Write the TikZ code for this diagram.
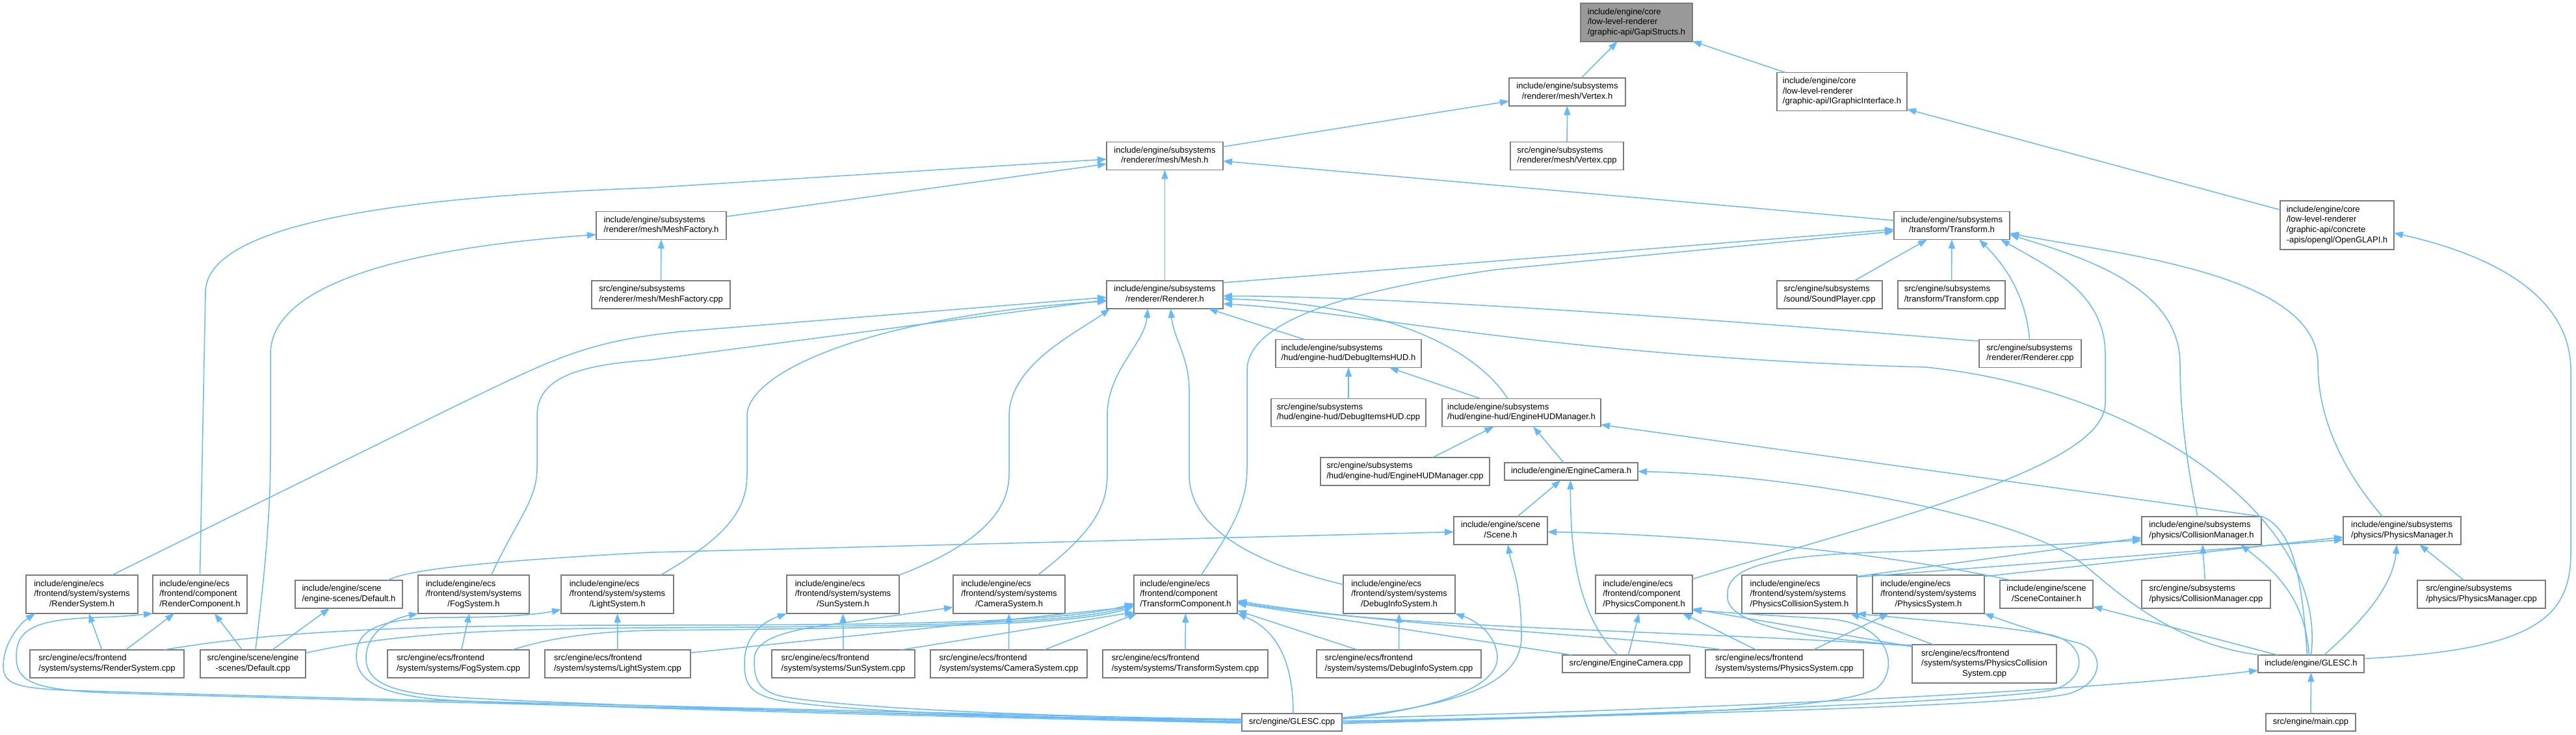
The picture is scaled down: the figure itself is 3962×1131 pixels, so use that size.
\documentclass[tikz,border=0pt]{standalone}
\usepackage{fontspec}
\setmainfont{Liberation Sans}
\usepackage{tikz}
\usetikzlibrary{arrows.meta,positioning,calc}
\definecolor{IncBlue}{HTML}{63B8FF}
\definecolor{BoxGray}{HTML}{7A7A7A}
\definecolor{FocusGray}{HTML}{999999}
\newcommand{\fsize}{\fontsize{13}{15.6}\selectfont}
\newcommand{\flines}[2]{\begin{tabular}{@{}l@{}}#1\\\multicolumn{1}{@{}c@{}}{#2}\end{tabular}}

\begin{document}
\begin{tikzpicture}[
  x=1pt,y=-1pt,
  srcbox/.style={draw=BoxGray,fill=white,line width=1.8pt,inner sep=0pt,outer sep=0pt,font=\fsize},
  focusbox/.style={srcbox,fill=FocusGray},
  wd/.style={minimum width=#1pt},
  ln1/.style={minimum height=27pt},
  ln2/.style={minimum height=43pt},
  ln3/.style={minimum height=59pt},
  ln4/.style={minimum height=75pt},
  inc/.style={-{Triangle[length=14pt,width=10pt]},draw=IncBlue,line width=1.5pt}
]
\useasboundingbox (0,0) rectangle (3962,1131);
\node[focusbox,ln3,wd=172] (gapi) at (2517,34.5) {\flines{include/engine/core\\/low-level-renderer}{/graphic-api/GapiStructs.h}};
\node[srcbox,ln2,wd=179] (vtxh) at (2410.5,141.5) {\flines{include/engine/subsystems}{/renderer/mesh/Vertex.h}};
\node[srcbox,ln3,wd=200] (igfx) at (2833,141) {\flines{include/engine/core\\/low-level-renderer}{/graphic-api/IGraphicInterface.h}};
\node[srcbox,ln2,wd=179] (mesh) at (1791.5,240) {\flines{include/engine/subsystems}{/renderer/mesh/Mesh.h}};
\node[srcbox,ln2,wd=174] (vtxcpp) at (2410,240) {\flines{src/engine/subsystems}{/renderer/mesh/Vertex.cpp}};
\node[srcbox,ln4,wd=175] (ogl) at (3594.5,346.5) {\flines{include/engine/core\\/low-level-renderer\\/graphic-api/concrete}{-apis/opengl/OpenGLAPI.h}};
\node[srcbox,ln2,wd=200] (mfh) at (1017,347) {\flines{include/engine/subsystems}{/renderer/mesh/MeshFactory.h}};
\node[srcbox,ln2,wd=178] (trans) at (3002,347) {\flines{include/engine/subsystems}{/transform/Transform.h}};
\node[srcbox,ln2,wd=213] (mfcpp) at (1016.5,453.5) {\flines{src/engine/subsystems}{/renderer/mesh/MeshFactory.cpp}};
\node[srcbox,ln2,wd=179] (rend) at (1791.5,453.5) {\flines{include/engine/subsystems}{/renderer/Renderer.h}};
\node[srcbox,ln2,wd=162] (sndcpp) at (2814,453.5) {\flines{src/engine/subsystems}{/sound/SoundPlayer.cpp}};
\node[srcbox,ln2,wd=165] (trcpp) at (3001.5,453.5) {\flines{src/engine/subsystems}{/transform/Transform.cpp}};
\node[srcbox,ln2,wd=224] (dihud) at (2074,544) {\flines{include/engine/subsystems}{/hud/engine-hud/DebugItemsHUD.h}};
\node[srcbox,ln2,wd=157] (rendcpp) at (3122.5,544) {\flines{src/engine/subsystems}{/renderer/Renderer.cpp}};
\node[srcbox,ln2,wd=238] (dihudcpp) at (2074,635) {\flines{src/engine/subsystems}{/hud/engine-hud/DebugItemsHUD.cpp}};
\node[srcbox,ln2,wd=244] (hudmgr) at (2340,635) {\flines{include/engine/subsystems}{/hud/engine-hud/EngineHUDManager.h}};
\node[srcbox,ln2,wd=260] (hudmgrcpp) at (2161,725.5) {\flines{src/engine/subsystems}{/hud/engine-hud/EngineHUDManager.cpp}};
\node[srcbox,ln1,wd=205] (ecam) at (2416.5,725.5) {include/engine/EngineCamera.h};
\node[srcbox,ln2,wd=144] (scene) at (2308,816.5) {\flines{include/engine/scene}{/Scene.h}};
\node[srcbox,ln2,wd=184] (colmgr) at (3386,816.5) {\flines{include/engine/subsystems}{/physics/CollisionManager.h}};
\node[srcbox,ln2,wd=181] (phymgr) at (3694.5,816.5) {\flines{include/engine/subsystems}{/physics/PhysicsManager.h}};
\node[srcbox,ln3,wd=172] (rsys) at (126,914.5) {\flines{include/engine/ecs\\/frontend/system/systems}{/RenderSystem.h}};
\node[srcbox,ln3,wd=145,right=23pt of rsys] (rcomp) {\flines{include/engine/ecs\\/frontend/component}{/RenderComponent.h}};
\node[srcbox,ln2,wd=165,right=74pt of rcomp] (defh) {\flines{include/engine/scene}{/engine-scenes/Default.h}};
\node[srcbox,ln3,wd=171,right=24pt of defh] (fogh) {\flines{include/engine/ecs\\/frontend/system/systems}{/FogSystem.h}};
\node[srcbox,ln3,wd=173,right=49pt of fogh] (lighth) {\flines{include/engine/ecs\\/frontend/system/systems}{/LightSystem.h}};
\node[srcbox,ln3,wd=173,right=174pt of lighth] (sunh) {\flines{include/engine/ecs\\/frontend/system/systems}{/SunSystem.h}};
\node[srcbox,ln3,wd=172,right=83pt of sunh] (camh) {\flines{include/engine/ecs\\/frontend/system/systems}{/CameraSystem.h}};
\node[srcbox,ln3,wd=159,right=106pt of camh] (tcomp) {\flines{include/engine/ecs\\/frontend/component}{/TransformComponent.h}};
\node[srcbox,ln3,wd=172,right=163pt of tcomp] (dish) {\flines{include/engine/ecs\\/frontend/system/systems}{/DebugInfoSystem.h}};
\node[srcbox,ln3,wd=149,right=216pt of dish] (pcomp) {\flines{include/engine/ecs\\/frontend/component}{/PhysicsComponent.h}};
\node[srcbox,ln3,wd=177,right=76pt of pcomp] (pcsh) {\flines{include/engine/ecs\\/frontend/system/systems}{/PhysicsCollisionSystem.h}};
\node[srcbox,ln3,wd=172,right=24pt of pcsh] (psysh) {\flines{include/engine/ecs\\/frontend/system/systems}{/PhysicsSystem.h}};
\node[srcbox,ln2,wd=143,right=24pt of psysh] (scont) {\flines{include/engine/scene}{/SceneContainer.h}};
\node[srcbox,ln2,wd=198,right=75pt of scont] (colcpp) {\flines{src/engine/subsystems}{/physics/CollisionManager.cpp}};
\node[srcbox,ln2,wd=197,right=226pt of colcpp] (phycpp) {\flines{src/engine/subsystems}{/physics/PhysicsManager.cpp}};
\node[srcbox,ln2,wd=237] (rsyscpp) at (164.5,1021.5) {\flines{src/engine/ecs/frontend}{/system/systems/RenderSystem.cpp}};
\node[srcbox,ln2,wd=162,right=25pt of rsyscpp] (defcpp) {\flines{src/engine/scene/engine}{-scenes/Default.cpp}};
\node[srcbox,ln2,wd=218,right=126pt of defcpp] (fogcpp) {\flines{src/engine/ecs/frontend}{/system/systems/FogSystem.cpp}};
\node[srcbox,ln2,wd=224,right=24pt of fogcpp] (lightcpp) {\flines{src/engine/ecs/frontend}{/system/systems/LightSystem.cpp}};
\node[srcbox,ln2,wd=220,right=125pt of lightcpp] (suncpp) {\flines{src/engine/ecs/frontend}{/system/systems/SunSystem.cpp}};
\node[srcbox,ln2,wd=241,right=24pt of suncpp] (camcpp) {\flines{src/engine/ecs/frontend}{/system/systems/CameraSystem.cpp}};
\node[srcbox,ln2,wd=254,right=24pt of camcpp] (tsyscpp) {\flines{src/engine/ecs/frontend}{/system/systems/TransformSystem.cpp}};
\node[srcbox,ln2,wd=253,right=75pt of tsyscpp] (discpp) {\flines{src/engine/ecs/frontend}{/system/systems/DebugInfoSystem.cpp}};
\node[srcbox,ln1,wd=196,right=125pt of discpp] (ecamcpp) {src/engine/EngineCamera.cpp};
\node[srcbox,ln2,wd=243,right=24pt of ecamcpp] (psyscpp) {\flines{src/engine/ecs/frontend}{/system/systems/PhysicsSystem.cpp}};
\node[srcbox,ln3,wd=222,right=75pt of psyscpp] (pcscpp) {\flines{src/engine/ecs/frontend\\/system/systems/PhysicsCollision}{System.cpp}};
\node[srcbox,ln1,wd=163,right=310pt of pcscpp] (glesch) {include/engine/GLESC.h};
\node[srcbox,ln1,wd=154] (glesccpp) at (1987,1111.5) {src/engine/GLESC.cpp};
\node[srcbox,ln1,wd=138] (maincpp) at (3554,1111.5) {src/engine/main.cpp};
\draw[inc] (vtxh) -- (gapi);
\draw[inc] (igfx) -- (gapi);
\draw[inc] (mesh) -- (vtxh);
\draw[inc] (vtxcpp) -- (vtxh);
\draw[inc] (ogl) -- (igfx);
\draw[inc] (mfh) -- (mesh);
\draw[inc] (rcomp.north) -- (316,450) .. controls (316,330) and (700,300) .. (1000,289) -- ($(mesh.west)+(0,5)$);
\draw[inc] (rend) -- (mesh);
\draw[inc] (trans) -- (mesh);
\draw[inc] ($(rend.north east)+(0,3)$) -- ($(trans.west)+(0,6)$);
\draw[inc] ($(tcomp.north)+(24,0)$) .. controls (1890,820) and (1918,780) .. (1918,720) -- (1918,570) .. controls (1918,500) and (2050,450) .. (2300,415) -- ($(trans.west)+(0,9)$);
\draw[inc] (sndcpp) -- (trans);
\draw[inc] (trcpp) -- (trans);
\draw[inc] ($(rendcpp.north)+(-1,0)$) .. controls (3115,445) and (3075,400) .. ($(trans.south)+(42,0)$);
\draw[inc] ($(pcomp.north east)+(0,6)$) .. controls (2900,800) and (3238,720) .. (3238,620) -- (3238,545) .. controls (3238,450) and (3150,410) .. ($(trans.south east)+(-14,0)$);
\draw[inc] ($(colmgr.north)+(-6,0)$) .. controls (3360,700) and (3353,620) .. (3353,560) .. controls (3353,440) and (3200,395) .. ($(trans.east)+(0,14)$);
\draw[inc] ($(phymgr.north)+(-30,0)$) .. controls (3600,720) and (3565,640) .. (3565,560) .. controls (3565,420) and (3250,390) .. ($(trans.east)+(0,12)$);
\draw[inc] ($(glesch.east)+(0,-8)$) .. controls (3900,1000) and (3954,950) .. (3954,850) -- (3954,570) .. controls (3954,440) and (3800,385) .. ($(ogl.east)+(0,12)$);
\draw[inc] (mfcpp) -- (mfh);
\draw[inc] ($(defcpp.north)+(4,0)$) .. controls (405,900) and (416,800) .. (416,700) -- (416,545) .. controls (416,430) and (650,380) .. ($(mfh.west)+(0,14)$);
\draw[inc] ($(rsys.north)+(46,0)$) -- (700,625) .. controls (850,553) and (900,525) .. (1050,510) -- ($(rend.west)+(0,4)$);
\draw[inc] ($(fogh.north)+(27,0)$) .. controls (795,800) and (826,770) .. (826,720) -- (826,640) .. controls (826,585) and (880,562) .. (1000,554) -- ($(rend.west)+(0,8)$);
\draw[inc] ($(lighth.north east)+(-20,0)$) .. controls (1110,830) and (1149,790) .. (1149,730) -- (1149,640) .. controls (1149,570) and (1350,485) .. ($(rend.west)+(0,10)$);
\draw[inc] (sunh.north east) .. controls (1500,840) and (1552,790) .. (1552,730) -- (1552,640) .. controls (1552,560) and (1660,510) .. ($(rend.south west)+(5,0)$);
\draw[inc] ($(camh.north)+(44,0)$) .. controls (1680,820) and (1703,780) .. (1703,730) -- (1703,640) .. controls (1703,570) and (1760,530) .. ($(rend.south)+(-26,0)$);
\draw[inc] ($(dish.west)+(0,-15)$) .. controls (1900,860) and (1829,800) .. (1829,730) -- (1829,600) .. controls (1829,550) and (1805,520) .. ($(rend.south)+(9,0)$);
\draw[inc] (dihud) -- (rend);
\draw[inc] ($(rendcpp.west)+(0,-19)$) .. controls (2500,480) and (2100,456) .. ($(rend.east)+(0,2)$);
\draw[inc] ($(hudmgr.north)+(-21,0)$) .. controls (2285,560) and (2180,470) .. ($(rend.east)+(0,6)$);
\draw[inc] (glesch.north) .. controls (3580,800) and (3300,600) .. (2962,565) .. controls (2400,550) and (2100,480) .. ($(rend.east)+(0,14)$);
\draw[inc] (dihudcpp) -- (dihud);
\draw[inc] (hudmgr) -- (dihud);
\draw[inc] (hudmgrcpp) -- (hudmgr);
\draw[inc] (ecam) -- (hudmgr);
\draw[inc] ($(glesch.north)+(-6,0)$) .. controls (3540,880) and (3525,815) .. (3480,795) -- ($(hudmgr.south east)+(0,-3)$);
\draw[inc] (scene) -- (ecam);
\draw[inc] ($(ecamcpp.north)+(-13,0)$) .. controls (2430,950) and (2415,860) .. ($(ecam.south)+(-1,0)$);
\draw[inc] ($(glesch.north west)+(3,0)$) .. controls (3330,990) and (3240,895) .. (3200,865) .. controls (3100,790) and (2750,730) .. (ecam.east);
\draw[inc] ($(defh.north)+(60,0)$) .. controls (620,880) and (700,866) .. (1000,850) -- ($(scene.west)+(0,2)$);
\draw[inc] ($(glesccpp.east)+(0,-7)$) .. controls (2250,1085) and (2340,1050) .. (2340,980) .. controls (2340,900) and (2325,870) .. ($(scene.south)+(11,0)$);
\draw[inc] ($(scont.north west)+(17,0)$) .. controls (2900,850) and (2600,822) .. ($(scene.east)+(0,2)$);
\draw[inc] (glesch) -- (scont);
\draw[inc] ($(glesch.north)+(-3,0)$) .. controls (3545,920) and (3500,880) .. ($(colmgr.south)+(60,0)$);
\draw[inc] (colcpp) -- (colmgr);
\draw[inc] ($(glesch.north)+(20,0)$) .. controls (3640,950) and (3680,900) .. ($(phymgr.south)+(-8,0)$);
\draw[inc] (phycpp) -- (phymgr);
\draw[inc] ($(psysh.north east)+(0,2)$) -- ($(phymgr.west)+(0,10)$);
\draw[inc] ($(pcsh.north east)+(0,2)$) -- ($(colmgr.west)+(0,11)$);
\draw[inc] ($(pcsh.north east)+(0,3)$) -- ($(phymgr.west)+(0,14)$);
\draw[inc] ($(pcscpp.north west)+(0,1)$) .. controls (2800,985) and (2650,965) .. (2657,915) .. controls (2655,865) and (2750,852) .. (2950,848) -- ($(colmgr.west)+(0,15)$);
\draw[inc] ($(glesccpp.east)+(0,2)$) .. controls (2500,1100) and (2820,1095) .. (2885,1060) .. controls (2920,1035) and (2915,960) .. (2810,952) .. controls (2700,946) and (2650,942) .. ($(pcomp.south east)+(0,-5)$);
\draw[inc] (glesccpp.east) .. controls (2600,1098) and (3050,1078) .. (3150,1063) .. controls (3212,1052) and (3215,988) .. (3150,976) .. controls (3050,960) and (2930,952) .. (pcsh.south east);
\draw[inc] ($(glesccpp.east)+(0,-2)$) .. controls (2600,1100) and (3100,1085) .. (3180,1068) .. controls (3238,1052) and (3238,1000) .. (3195,989) .. controls (3140,975) and (3090,958) .. (psysh.south east);
\draw[inc] (pcscpp) -- (pcsh);
\draw[inc] (psyscpp) -- (psysh);
\draw[inc] (psyscpp) -- (pcomp);
\draw[inc] ($(pcscpp.north west)+(0,3)$) -- ($(pcomp.south east)+(0,-7)$);
\draw[inc] (ecamcpp) -- (pcomp);
\draw[inc] (rsyscpp) -- (rsys);
\draw[inc] (rsyscpp) -- (rcomp);
\draw[inc] (defcpp) -- (rcomp);
\draw[inc] (defcpp) -- (defh);
\draw[inc] (fogcpp) -- (fogh);
\draw[inc] (lightcpp) -- (lighth);
\draw[inc] (suncpp) -- (sunh);
\draw[inc] (camcpp) -- (camh);
\draw[inc] (tsyscpp) -- (tcomp);
\draw[inc] (discpp) -- (dish);
\draw[inc] ($(rsyscpp.north east)+(-31,0)$) .. controls (450,966) and (700,962) .. (1000,962) .. controls (1450,962) and (1650,955) .. ($(tcomp.west)+(0,14)$);
\draw[inc] ($(defcpp.north east)+(0,5)$) .. controls (600,975) and (750,968) .. (1000,966) .. controls (1450,964) and (1660,958) .. ($(tcomp.west)+(0,16)$);
\draw[inc] ($(fogcpp.north east)+(-26,0)$) .. controls (850,980) and (920,972) .. (1000,970) .. controls (1450,966) and (1670,960) .. ($(tcomp.west)+(0,18)$);
\draw[inc] ($(lightcpp.east)+(0,-17)$) -- ($(tcomp.west)+(0,19)$);
\draw[inc] ($(suncpp.north east)+(-21,0)$) -- ($(tcomp.south west)+(0,-2)$);
\draw[inc] (camcpp) -- (tcomp);
\draw[inc] ($(discpp.north west)+(63,0)$) -- ($(tcomp.east)+(0,25)$);
\draw[inc] ($(ecamcpp.north west)+(15,0)$) -- ($(tcomp.east)+(0,14)$);
\draw[inc] ($(psyscpp.north west)+(27,0)$) .. controls (2500,978) and (2150,965) .. ($(tcomp.east)+(0,10)$);
\draw[inc] ($(pcscpp.north west)+(0,2)$) .. controls (2600,970) and (2150,968) .. ($(tcomp.east)+(0,12)$);
\draw[inc] ($(glesccpp.north)+(2,0)$) .. controls (1989,1020) and (1965,970) .. (tcomp.south east);
\draw[inc] ($(glesccpp.west)+(0,-3)$) .. controls (1400,1095) and (500,1075) .. (128,1063) .. controls (30,1060) and (5,1055) .. (5,1025) .. controls (5,990) and (30,960) .. ($(rsys.south west)+(14,0)$);
\draw[inc] ($(glesccpp.west)+(0,-1)$) .. controls (1400,1098) and (550,1078) .. (191,1067) .. controls (50,1063) and (25,1050) .. (25,1010) .. controls (25,965) and (60,953) .. (150,950) .. controls (190,949) and (215,946) .. (rcomp.south west);
\draw[inc] (glesccpp.west) .. controls (1400,1100) and (900,1085) .. (702,1073) .. controls (600,1067) and (565,1050) .. (563,1015) .. controls (562,980) and (590,955) .. (fogh.south west);
\draw[inc] ($(glesccpp.west)+(0,1)$) .. controls (1400,1102) and (900,1088) .. (700,1078) .. controls (590,1072) and (548,1050) .. (548,1010) .. controls (548,965) and (590,950) .. (700,950) .. controls (780,950) and (830,945) .. ($(lighth.south west)+(0,-6)$);
\draw[inc] ($(glesccpp.west)+(0,-4)$) .. controls (1650,1106) and (1320,1098) .. (1200,1078) .. controls (1150,1068) and (1145,1050) .. (1145,1020) .. controls (1145,985) and (1165,960) .. (sunh.south west);
\draw[inc] ($(glesccpp.west)+(0,-5)$) .. controls (1650,1104) and (1330,1092) .. (1210,1073) .. controls (1165,1065) and (1160,1045) .. (1160,1015) .. controls (1160,985) and (1200,970) .. (1300,958) -- ($(camh.west)+(0,20)$);
\draw[inc] ($(glesccpp.east)+(0,-5)$) .. controls (2200,1092) and (2305,1060) .. (2303,1010) .. controls (2300,975) and (2270,955) .. (dish.south east);
\draw[inc] ($(glesccpp.east)+(0,-6)$) .. controls (2600,1092) and (3200,1065) .. ($(glesch.west)+(0,10)$);
\draw[inc] (maincpp) -- (glesch);
\end{tikzpicture}
\end{document}
